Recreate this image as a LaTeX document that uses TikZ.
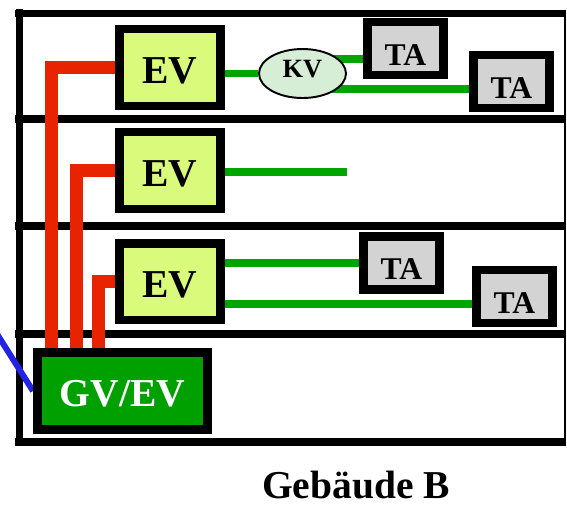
\documentclass[tikz,border=0pt]{standalone}
\usepackage{fontspec}
\setmainfont{Liberation Serif}
\usetikzlibrary{calc, backgrounds, shapes.geometric}

\definecolor{evfill}{RGB}{217,250,122}
\definecolor{gvfill}{RGB}{0,160,0}
\definecolor{wiregreen}{RGB}{0,165,0}
\definecolor{feedred}{RGB}{232,36,0}
\definecolor{tafill}{RGB}{211,211,211}
\definecolor{kvfill}{RGB}{214,237,214}
\definecolor{linkblue}{RGB}{35,35,230}

\tikzset{
  box/.style={draw, line width=5.1pt, inner sep=0pt, font=\fontsize{22.5}{27}\selectfont\bfseries},
  evbox/.style={box, fill=evfill, minimum width=2.02cm, minimum height=1.54cm, text height=0.62cm, text depth=0pt},
  gvbox/.style={box, fill=gvfill, text=white, minimum width=3.4cm, minimum height=1.54cm, text height=0.62cm, text depth=0pt},
  tabox/.style={box, fill=tafill, minimum width=1.52cm, minimum height=1.06cm, text height=0.66cm, text depth=0pt, font=\fontsize{18}{22}\selectfont\bfseries},
  kvnode/.style={ellipse, draw, line width=1.1pt, fill=kvfill, inner sep=0pt, minimum width=1.74cm, minimum height=0.98cm, text depth=0.2cm, font=\fontsize{15}{18}\selectfont\bfseries},
  floor/.style={line width=4.5pt},
  wire/.style={line width=4pt, wiregreen},
  feed/.style={line width=7.4pt, feedred},
  uplink/.style={line width=3.4pt, linkblue}
}

\begin{document}
\begin{tikzpicture}[x={(0.02cm,0)}, y={(0,-0.02cm)}]
\useasboundingbox (0,0) rectangle (567,505);

\node[evbox] (ev1) at (170,67.5) {EV};
\node[evbox] (ev2) at (170,170.5) {EV};
\node[evbox] (ev3) at (170,281.5) {EV};
\node[gvbox] (gv) at (122.5,391) {GV/EV};

\node[kvnode] (kv) at (302.5,73.5) {KV};
\node[tabox] (ta1) at (405.5,48.5) {TA};
\node[tabox] (ta2) at (511.5,81.5) {TA};
\node[tabox] (ta3) at (401.5,263) {TA};
\node[tabox] (ta4) at (514.5,296.5) {TA};

\node[font=\fontsize{22.5}{27}\selectfont\bfseries, anchor=base] (bldg) at (356,498) {Gebäude B};

\coordinate (kvup) at ($(kv.center)+(0,-14.5)$);
\coordinate (kvdown) at ($(kv.center)+(0,15.5)$);
\coordinate (ev2end) at (347,172);
\coordinate (ta4port) at ($(ta4.west)+(0,7.5)$);
\coordinate (linkin) at (-3,334);

\begin{pgfonlayer}{background}
\foreach \fy in {13.5, 119, 226, 334, 442}
  \draw[floor] (15,\fy) -- (566,\fy);
\draw[floor] (19.5,9) -- (19.5,446);
\draw[line width=0.8pt] (565,10) -- (565,446);

\draw[wire] (ev1.east |- kv.west) -- (kv.west);
\draw[wire] (kvup) -- (kvup -| ta1.west);
\draw[wire] (kvdown) -- (kvdown -| ta2.west);
\draw[wire] (ev2.east |- ev2end) -- (ev2end);
\draw[wire] (ev3.east |- ta3.west) -- (ta3.west);
\draw[wire] (ev3.east |- ta4port) -- (ta4port);

\draw[feed] (ev1.west) -| ($(gv.north west)+(18.5,0)$);
\draw[feed] (ev2.west) -| ($(gv.north west)+(43,0)$);
\draw[feed] (ev3.west) -| ($(gv.north west)+(65,0)$);

\draw[uplink] (linkin) -- (gv.west);
\end{pgfonlayer}

\end{tikzpicture}
\end{document}
